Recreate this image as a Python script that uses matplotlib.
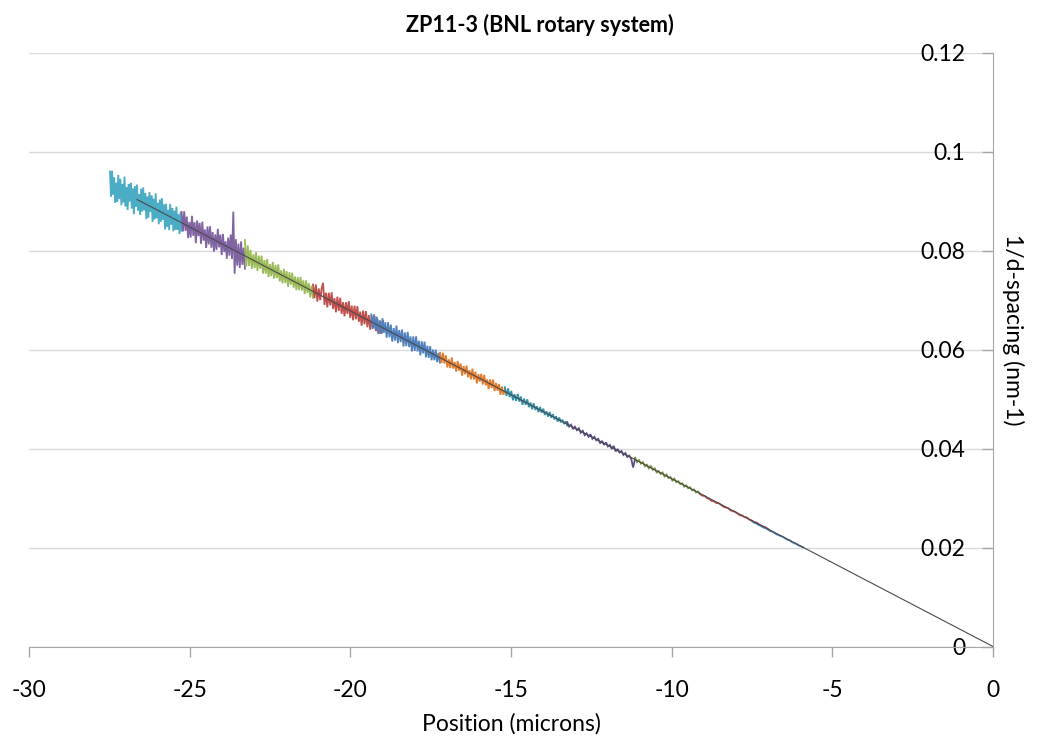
import numpy as np
import matplotlib
matplotlib.use("Agg")
import matplotlib.pyplot as plt

plt.rcParams['font.family'] = ['Lato', 'DejaVu Sans']

# ---- measured 1/d-spacing scans, one list per scan segment (left to right) ----
seg_x_ranges = [(-27.48, -25.25), (-25.25, -23.28), (-23.28, -21.16), (-21.16, -18.98),
                (-19.35, -17.21), (-17.21, -15.19), (-15.19, -13.25), (-13.25, -11.14),
                (-11.14, -9.12), (-9.12, -7.00), (-7.50, -5.91)]

seg_y = [
    # scan 11
    [0.09596, 0.09085, 0.09614, 0.09133, 0.09472, 0.08961, 0.09370, 0.08989, 0.09528, 0.09037,
     0.09446, 0.08915, 0.09345, 0.08974, 0.09493, 0.08892, 0.09281, 0.08820, 0.09339, 0.08988,
     0.09367, 0.08846, 0.09255, 0.08734, 0.09303, 0.08882, 0.09331, 0.08810, 0.09139, 0.08718,
     0.09247, 0.08786, 0.09275, 0.08814, 0.09154, 0.08633, 0.09092, 0.08661, 0.09180, 0.08779,
     0.09108, 0.08577, 0.09046, 0.08625, 0.09154, 0.08653, 0.08962, 0.08531, 0.09030, 0.08579,
     0.09058, 0.08627, 0.08926, 0.08425, 0.08944, 0.08473, 0.08822, 0.08411, 0.08941, 0.08520,
     0.08859, 0.08388, 0.08807, 0.08416, 0.08885, 0.08424, 0.08733, 0.08332, 0.08781, 0.08400],
    # scan 10
    [0.08779, 0.08385, 0.08792, 0.08398, 0.08685, 0.08251, 0.08577, 0.08264, 0.08700, 0.08297,
     0.08573, 0.08149, 0.08606, 0.08292, 0.08558, 0.08135, 0.08581, 0.08198, 0.08424, 0.08051,
     0.08487, 0.08123, 0.08490, 0.08056, 0.08372, 0.07979, 0.08325, 0.08012, 0.08438, 0.08064,
     0.08321, 0.07907, 0.08334, 0.07970, 0.08186, 0.07833, 0.08259, 0.07896, 0.08322, 0.07828,
     0.08785, 0.07531, 0.08228, 0.07694, 0.08140, 0.07647, 0.08183, 0.07710, 0.08056, 0.07632],
    # scan 9
    [0.08212, 0.07677, 0.08103, 0.07688, 0.08013, 0.07629, 0.07924, 0.07649, 0.07965, 0.07590,
     0.07895, 0.07631, 0.07896, 0.07531, 0.07807, 0.07532, 0.07827, 0.07463, 0.07728, 0.07483,
     0.07769, 0.07434, 0.07709, 0.07445, 0.07720, 0.07375, 0.07601, 0.07336, 0.07631, 0.07347,
     0.07582, 0.07267, 0.07563, 0.07308, 0.07553, 0.07249, 0.07474, 0.07199, 0.07465, 0.07200,
     0.07465, 0.07191, 0.07396, 0.07121, 0.07397, 0.07142, 0.07337, 0.07053, 0.07288, 0.07043],
    # scan 8
    [0.07313, 0.07038, 0.07313, 0.06968, 0.07233, 0.06998, 0.07233, 0.07347, 0.06902, 0.07147,
     0.06852, 0.07147, 0.06892, 0.07157, 0.06822, 0.07037, 0.06752, 0.07067, 0.06782, 0.07046,
     0.06721, 0.06956, 0.06671, 0.06956, 0.06721, 0.06976, 0.06641, 0.06886, 0.06591, 0.06886,
     0.06611, 0.06876, 0.06560, 0.06765, 0.06480, 0.06785, 0.06510, 0.06775, 0.06450, 0.06695,
     0.06400, 0.06685, 0.06440, 0.06675, 0.06370, 0.06614, 0.06319, 0.06574, 0.06319, 0.06574],
    # scan 7
    [0.06710, 0.06415, 0.06710, 0.06406, 0.06661, 0.06316, 0.06591, 0.06316, 0.06631, 0.06337,
     0.06552, 0.06237, 0.06552, 0.06247, 0.06503, 0.06158, 0.06433, 0.06178, 0.06483, 0.06128,
     0.06394, 0.06149, 0.06404, 0.06059, 0.06344, 0.06069, 0.06355, 0.06050, 0.06265, 0.05960,
     0.06265, 0.05971, 0.06266, 0.05961, 0.06176, 0.05881, 0.06166, 0.05922, 0.06157, 0.05842,
     0.06077, 0.05832, 0.06067, 0.05783, 0.05998, 0.05783, 0.05998, 0.05743, 0.05929, 0.05734],
    # scan 6
    [0.05934, 0.05728, 0.05933, 0.05717, 0.05882, 0.05636, 0.05801, 0.05625, 0.05840, 0.05614,
     0.05748, 0.05553, 0.05767, 0.05572, 0.05716, 0.05471, 0.05665, 0.05500, 0.05674, 0.05438,
     0.05583, 0.05397, 0.05612, 0.05396, 0.05551, 0.05315, 0.05500, 0.05354, 0.05508, 0.05293,
     0.05487, 0.05272, 0.05396, 0.05201, 0.05395, 0.05220, 0.05394, 0.05159, 0.05323, 0.05167,
     0.05302, 0.05086, 0.05251, 0.05085, 0.05199],
    # scan 5
    [0.05239, 0.05062, 0.05215, 0.05038, 0.05162, 0.04975, 0.05098, 0.04961, 0.05104, 0.04947,
     0.05050, 0.04884, 0.05007, 0.04880, 0.04993, 0.04836, 0.04929, 0.04792, 0.04916, 0.04779,
     0.04852, 0.04735, 0.04838, 0.04721, 0.04805, 0.04678, 0.04751, 0.04644, 0.04737, 0.04620,
     0.04693, 0.04587, 0.04650, 0.04543, 0.04626, 0.04529, 0.04582, 0.04495, 0.04549, 0.04462],
    # scan 4
    [0.04532, 0.04442, 0.04481, 0.04391, 0.04440, 0.04370, 0.04409, 0.04319, 0.04358, 0.04268,
     0.04307, 0.04237, 0.04286, 0.04196, 0.04236, 0.04165, 0.04195, 0.04104, 0.04154, 0.04073,
     0.04123, 0.04042, 0.04072, 0.03991, 0.04051, 0.03940, 0.03990, 0.03919, 0.03949, 0.03869,
     0.03908, 0.03828, 0.03857, 0.03797, 0.03616, 0.03786],
    # scan 3
    [0.03816, 0.03725, 0.03765, 0.03694, 0.03723, 0.03642, 0.03672, 0.03601, 0.03650, 0.03569,
     0.03599, 0.03518, 0.03547, 0.03487, 0.03516, 0.03435, 0.03474, 0.03404, 0.03423, 0.03352,
     0.03391, 0.03321, 0.03340, 0.03279, 0.03298, 0.03228, 0.03257, 0.03196, 0.03216, 0.03155,
     0.03174, 0.03113, 0.03133, 0.03082],
    # scan 2
    [0.03082, 0.03047, 0.03042, 0.02998, 0.02983, 0.02938, 0.02933, 0.02898, 0.02894, 0.02859,
     0.02824, 0.02809, 0.02795, 0.02750, 0.02735, 0.02720, 0.02685, 0.02651, 0.02646, 0.02611,
     0.02606, 0.02561, 0.02547, 0.02512, 0.02507, 0.02472, 0.02438, 0.02423, 0.02408, 0.02373],
    # scan 1
    [0.02533, 0.02499, 0.02486, 0.02453, 0.02439, 0.02406, 0.02392, 0.02369, 0.02335, 0.02322,
     0.02298, 0.02265, 0.02251, 0.02228, 0.02214, 0.02181, 0.02157, 0.02144, 0.02110, 0.02087,
     0.02073, 0.02040, 0.02026, 0.02003],
]

seg_colors = ['#4BACC6', '#8064A2', '#9BBB59', '#C0504D', '#4F81BD', '#E37C2C',
              '#3591A8', '#5F4B8B', '#76923C', '#C0504D', '#4F81BD']

# linear fit through the origin
fit_x = [-26.64, 0.0]
fit_y = [0.09031, 0.0]

x_ticks = [-30, -25, -20, -15, -10, -5, 0]
y_ticks = [0, 0.02, 0.04, 0.06, 0.08, 0.1, 0.12]
y_tick_labels = ['0', '0.02', '0.04', '0.06', '0.08', '0.1', '0.12']

W, H = 1040, 742
fig = plt.figure(figsize=(W / 100, H / 100), dpi=100)
ax = fig.add_axes([29 / W, 1 - 646.5 / H, (993 - 29) / W, (646.5 - 52.5) / H])

for (x0, x1), ys, c in zip(seg_x_ranges, seg_y, seg_colors):
    xs = np.linspace(x0, x1, len(ys))
    ax.plot(xs, ys, color=c, lw=1.3, solid_joinstyle='miter', zorder=3)

ax.plot(fit_x, fit_y, color='#4A4A4A', lw=0.8, zorder=4)

ax.set_xlim(-30, 0)
ax.set_ylim(0, 0.12)
ax.set_xticks(x_ticks)
ax.set_xticklabels([str(t) for t in x_ticks])
ax.set_yticks(y_ticks)
ax.set_yticklabels(y_tick_labels)

axis_gray = '#A6A6A6'
ax.spines['left'].set_position(('data', 0))
ax.spines['left'].set_color(axis_gray)
ax.spines['bottom'].set_color(axis_gray)
ax.spines['right'].set_visible(False)
ax.spines['top'].set_visible(False)

ax.yaxis.grid(True, color='#D9D9D9', lw=1.0)
ax.set_axisbelow(True)

ax.tick_params(axis='x', direction='out', length=7, width=1, color=axis_gray,
               labelsize=16.5, pad=17, labelcolor='black')
ax.tick_params(axis='y', direction='out', length=8, width=1, color=axis_gray,
               labelsize=16.5, pad=12, labelcolor='black')

fig.text(540 / W, 1 - 25 / H, 'ZP11-3 (BNL rotary system)', ha='center', va='center',
         fontsize=15.5, fontweight='bold')
fig.text(511 / W, 1 - 724 / H, 'Position (microns)', ha='center', va='center', fontsize=16.5)
fig.text(1013 / W, 1 - 330 / H, '1/d-spacing (nm-1)', ha='center', va='center',
         rotation=270, fontsize=16.5)

fig.savefig('out.png', dpi=100)
